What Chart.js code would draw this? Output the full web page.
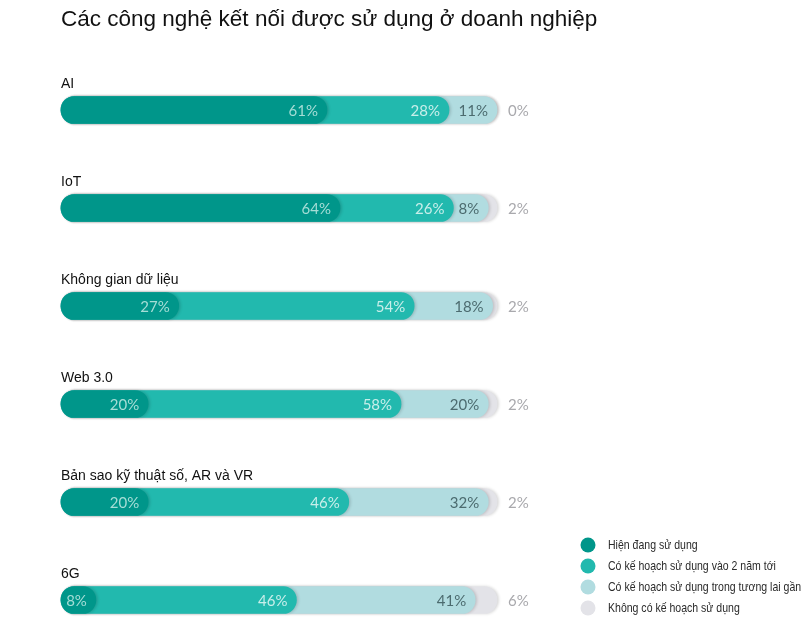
<!DOCTYPE html>
<html><head><meta charset="utf-8">
<script src="https://cdn.jsdelivr.net/npm/chart.js@4.4.1/dist/chart.umd.min.js"></script>
<style>html,body{margin:0;padding:0;background:#fff;} #wrap{position:relative;width:810px;height:636px;}</style>
</head><body><div id="wrap"><canvas id="c" width="810" height="636"></canvas></div>
<script>
const chartTitle = 'Các công nghệ kết nối được sử dụng ở doanh nghiệp';
const categories = ['AI', 'IoT', 'Không gian dữ liệu', 'Web 3.0', 'Bản sao kỹ thuật số, AR và VR', '6G'];
const seriesNames = ['Hiện đang sử dụng', 'Có kế hoạch sử dụng vào 2 năm tới', 'Có kế hoạch sử dụng trong tương lai gần', 'Không có kế hoạch sử dụng'];
const currentUse = [61, 64, 27, 20, 20, 8];
const planTwoYears = [28, 26, 54, 58, 46, 46];
const planFuture = [11, 8, 18, 20, 32, 41];
const noPlan = [0, 2, 2, 2, 2, 6];

const series = [currentUse, planTwoYears, planFuture, noPlan];
const colors = ['#00968a', '#22b9ae', '#b1dce0', '#e3e3e8'];
const labelColors = ['#a5ddd6', '#c8eeea', '#4c6b6f', '#a9a9ad'];

const cumulative = series.map((s, k) => categories.map((_, i) =>
  Math.min(100, series.slice(0, k + 1).reduce((a, arr) => a + arr[i], 0))));

const textPlugin = {
  id: 'texts',
  beforeDatasetDraw(chart) {
    const ctx = chart.ctx;
    ctx.save();
    ctx.shadowColor = 'rgba(0,0,0,0.16)';
    ctx.shadowBlur = 3;
    ctx.shadowOffsetX = 1.5;
  },
  afterDatasetDraw(chart) {
    chart.ctx.restore();
  },
  afterDraw(chart) {
    const ctx = chart.ctx;
    const xs = chart.scales.x, ys = chart.scales.y;
    ctx.save();
    // title
    ctx.fillStyle = '#111';
    ctx.font = '22.5px "Liberation Sans", Arial, sans-serif';
    ctx.textBaseline = 'alphabetic';
    ctx.textAlign = 'left';
    ctx.fillText(chartTitle, 61, 26);
    categories.forEach((cat, i) => {
      const y = ys.getPixelForValue(i);
      ctx.fillStyle = '#111';
      ctx.font = '14px "Liberation Sans", Arial, sans-serif';
      ctx.textAlign = 'left';
      ctx.textBaseline = 'middle';
      ctx.fillText(cat, 61, y - 26);
      ctx.font = '15px Lato, "Open Sans", sans-serif';
      for (let k = 0; k < 3; k++) {
        const v = series[k][i];
        if (!v) continue;
        ctx.fillStyle = labelColors[k];
        ctx.textAlign = 'right';
        ctx.fillText(v + '%', xs.getPixelForValue(cumulative[k][i]) - 9, y + 1);
      }
      ctx.fillStyle = labelColors[3];
      ctx.textAlign = 'left';
      ctx.fillText(noPlan[i] + '%', xs.getPixelForValue(100) + 11, y + 1);
    });
    // legend
    ctx.font = '13px "Liberation Sans", Arial, sans-serif';
    ctx.textBaseline = 'middle';
    ctx.textAlign = 'left';
    seriesNames.forEach((n, k) => {
      const ly = 545 + 21 * k;
      ctx.fillStyle = colors[k];
      ctx.beginPath();
      ctx.arc(588, ly, 7.5, 0, Math.PI * 2);
      ctx.fill();
      ctx.fillStyle = '#2a2a2a';
      ctx.save();
      ctx.translate(608, ly);
      ctx.scale(0.81, 1);
      ctx.fillText(n, 0, 0);
      ctx.restore();
    });
    ctx.restore();
  }
};

new Chart(document.getElementById('c'), {
  type: 'bar',
  data: {
    labels: categories,
    datasets: series.map((s, k) => ({
      label: seriesNames[k],
      data: cumulative[k],
      backgroundColor: colors[k],
      borderRadius: 14,
      borderSkipped: false,
      barThickness: 27,
      grouped: false,
      clip: false
    }))
  },
  options: {
    indexAxis: 'y',
    responsive: false,
    animation: false,
    layout: { padding: { left: 61, right: 313, top: 110, bottom: 36 } },
    scales: {
      x: { display: false, min: 0, max: 100 },
      y: { display: false, offset: false }
    },
    plugins: { legend: { display: false }, tooltip: { enabled: false } }
  },
  plugins: [textPlugin]
});
</script></body></html>
